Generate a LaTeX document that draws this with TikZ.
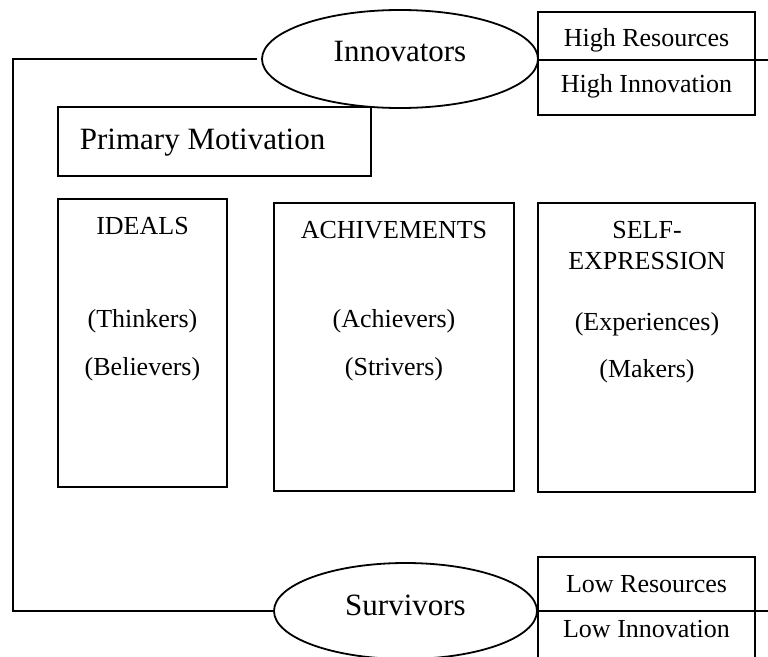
\documentclass[tikz,border=0pt]{standalone}
\usepackage{fontspec}
\setmainfont{Liberation Serif}
\usetikzlibrary{shapes.geometric}

\begin{document}
\begin{tikzpicture}[x=1pt,y=-1pt,line width=1.8pt,
    box/.style={draw,rectangle,inner sep=0pt,outer sep=0pt,anchor=north west},
    oval/.style={draw,ellipse,inner sep=0pt,outer sep=0pt},
    txt/.style={anchor=base,inner sep=0pt,font=\fontsize{26}{31}\selectfont},
    bigtxt/.style={anchor=base,inner sep=0pt,font=\fontsize{31}{37}\selectfont}]
      \clip (0,0) rectangle (768,656);
      % top and bottom groups
      \node[oval,minimum width=276pt,minimum height=98pt] (inno) at (400,59) {};
      \node[bigtxt] (innotxt) at (400,61) {Innovators};
      \node[oval,minimum width=263pt,minimum height=96pt] (surv) at (405.5,611) {};
      \node[bigtxt] (survtxt) at (405.5,615) {Survivors};
      % resource / innovation boxes
      \node[box,minimum width=217pt,minimum height=48pt] (hres) at (538,12) {};
      \node[box,minimum width=217pt,minimum height=55pt] (hinn) at (hres.south west) {};
      \node[txt] (hrestxt) at (646.5,46) {High Resources};
      \node[txt] (hinntxt) at (646.5,92) {High Innovation};
      \node[box,minimum width=217pt,minimum height=54pt] (lres) at (538,557) {};
      \node[box,minimum width=217pt,minimum height=60pt] (linn) at (lres.south west) {};
      \node[txt] (lrestxt) at (646.5,592) {Low Resources};
      \node[txt] (linntxt) at (646.5,637) {Low Innovation};
      % motivation header
      \node[box,minimum width=313pt,minimum height=69pt] (prim) at (58,107) {};
      \node[bigtxt,anchor=base west] (primtxt) at (79,149) {Primary Motivation};
      % motivation boxes
      \node[box,minimum width=169pt,minimum height=288pt] (ideals) at (58,199) {};
      \node[box,minimum width=240pt,minimum height=288pt] (achiev) at (274,203) {};
      \node[box,minimum width=217pt,minimum height=289pt] (selfexp) at (538,203) {};
      \node[txt] (idealstxt) at (142.5,234) {IDEALS};
      \node[txt] (think) at (142.5,327) {(Thinkers)};
      \node[txt] (believe) at (142.5,375) {(Believers)};
      \node[txt] (achievtxt) at (394,238) {ACHIVEMENTS};
      \node[txt] (achieve) at (394,327) {(Achievers)};
      \node[txt] (strive) at (394,375) {(Strivers)};
      \node[txt] (selftxt) at (647,238) {SELF-};
      \node[txt] (exprtxt) at (647,269) {EXPRESSION};
      \node[txt] (experience) at (647,330) {(Experiences)};
      \node[txt] (make) at (647,377) {(Makers)};
      % connectors
      \coordinate (tl) at (13,59);
      \coordinate (bl) at (13,611);
      \coordinate (hend) at (768,60);
      \coordinate (lend) at (768,611);
      \draw[shorten <=5pt] (inno.west) -- (tl) -- (bl) -- (surv.west);
      \draw (hres.south east) -- (hend);
      \draw (lres.south east) -- (lend);
    \end{tikzpicture}
\end{document}
